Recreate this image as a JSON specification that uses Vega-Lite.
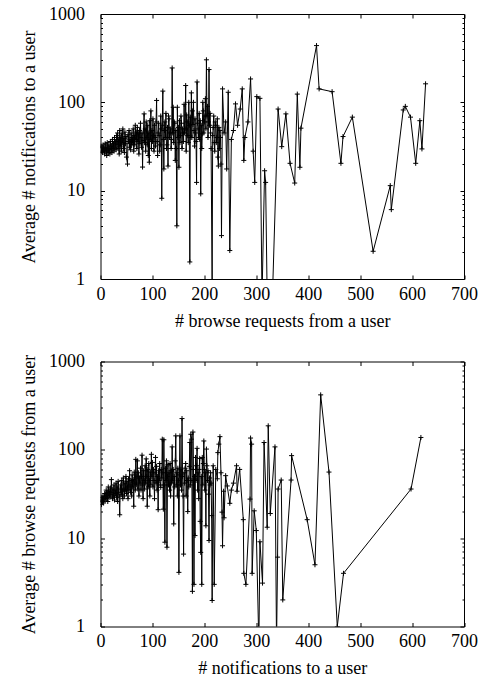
{
  "$schema": "https://vega.github.io/schema/vega-lite/v6.json",
  "padding": {"left": 19.5, "top": 4, "right": 5, "bottom": 5},
  "config": {
    "font": "Liberation Serif",
    "view": {"stroke": "black", "strokeWidth": 1},
    "axis": {"domain": false, "grid": false, "tickColor": "black", "tickWidth": 1, "labelColor": "black", "titleColor": "black", "labelFont": "Liberation Serif", "titleFont": "Liberation Serif", "labelFontSize": 18, "titleFontSize": 18, "titleFontWeight": "normal"}
  },
  "datasets": {
    "a": [
      {"x":1,"y":32},{"x":2,"y":28},{"x":3,"y":31},{"x":4,"y":27},{"x":5,"y":33},{"x":6,"y":29},{"x":7,"y":30},{"x":8,"y":26},{"x":9,"y":34},{"x":10,"y":28},
      {"x":11,"y":31},{"x":12,"y":25},{"x":13,"y":35},{"x":14,"y":29},{"x":15,"y":27},{"x":16,"y":33},{"x":17,"y":30},{"x":18,"y":26},{"x":19,"y":36},{"x":20,"y":29},
      {"x":21,"y":32},{"x":22,"y":27},{"x":23,"y":38},{"x":24,"y":30},{"x":25,"y":34},{"x":26,"y":28},{"x":27,"y":40},{"x":28,"y":31},{"x":29,"y":36},{"x":30,"y":29},
      {"x":31,"y":42},{"x":32,"y":33},{"x":33,"y":45},{"x":34,"y":30},{"x":35,"y":38},{"x":36,"y":26},{"x":37,"y":48},{"x":38,"y":32},{"x":39,"y":40},{"x":40,"y":28},
      {"x":41,"y":44},{"x":42,"y":35},{"x":43,"y":50},{"x":44,"y":30},{"x":45,"y":39},{"x":46,"y":27},{"x":47,"y":46},{"x":48,"y":34},{"x":49,"y":41},{"x":50,"y":24},
      {"x":52,"y":20},{"x":53,"y":43},{"x":54,"y":36},{"x":55,"y":48},{"x":56,"y":31},{"x":57,"y":38},{"x":58,"y":29},{"x":59,"y":45},{"x":60,"y":33},
      {"x":61,"y":40},{"x":62,"y":35},{"x":63,"y":50},{"x":64,"y":28},{"x":65,"y":42},{"x":66,"y":33},{"x":67,"y":55},{"x":68,"y":38},{"x":69,"y":46},{"x":70,"y":30},
      {"x":71,"y":52},{"x":72,"y":36},{"x":73,"y":44},{"x":74,"y":26},{"x":75,"y":48},{"x":76,"y":34},{"x":77,"y":58},{"x":78,"y":40},{"x":79,"y":31},{"x":80,"y":45},
      {"x":81,"y":18.5},{"x":82,"y":37},{"x":84,"y":74},{"x":85,"y":35},{"x":86,"y":50},{"x":87,"y":28},{"x":88,"y":60},{"x":89,"y":40},{"x":90,"y":33},
      {"x":91,"y":55},{"x":92,"y":25},{"x":93,"y":45},{"x":94,"y":21},{"x":95,"y":62},{"x":96,"y":38},{"x":97,"y":80},{"x":98,"y":30},{"x":99,"y":48},{"x":100,"y":36},
      {"x":101,"y":65},{"x":102,"y":42},{"x":103,"y":28},{"x":104,"y":55},{"x":105,"y":40},{"x":106,"y":32},{"x":107,"y":60},{"x":108,"y":105},{"x":109,"y":36},{"x":110,"y":25},
      {"x":111,"y":45},{"x":112,"y":58},{"x":113,"y":42},{"x":114,"y":28},{"x":115,"y":33},{"x":116,"y":70},{"x":117,"y":50},{"x":118,"y":8.2},{"x":119,"y":55},{"x":120,"y":134},{"x":121,"y":38},{"x":122,"y":17.6},
      {"x":123,"y":48},{"x":124,"y":60},{"x":125,"y":40},{"x":126,"y":75},{"x":127,"y":30},{"x":128,"y":33},{"x":129,"y":52},{"x":130,"y":19},{"x":131,"y":70},{"x":132,"y":65},{"x":133,"y":40},{"x":134,"y":45},{"x":135,"y":50},{"x":136,"y":30},
      {"x":137,"y":38},{"x":138,"y":245},{"x":139,"y":45},{"x":140,"y":88},{"x":141,"y":35},{"x":142,"y":60},{"x":143,"y":58},{"x":144,"y":22},{"x":145,"y":48},{"x":146,"y":30},{"x":147,"y":4.0},{"x":148,"y":88},{"x":149,"y":40},
      {"x":150,"y":52},{"x":151,"y":18.4},{"x":152,"y":62},{"x":153,"y":35},{"x":154,"y":42},{"x":155,"y":70},{"x":156,"y":58},{"x":157,"y":30},{"x":158,"y":50},{"x":159,"y":45},{"x":160,"y":36},{"x":161,"y":95},{"x":162,"y":45},
      {"x":163,"y":50},{"x":164,"y":155},{"x":165,"y":28},{"x":166,"y":72},{"x":167,"y":60},{"x":168,"y":42},{"x":169,"y":35},{"x":170,"y":100},{"x":171,"y":55},{"x":172,"y":1.56},{"x":173,"y":68},{"x":174,"y":40},{"x":175,"y":128},{"x":176,"y":40},
      {"x":177,"y":80},{"x":178,"y":56},{"x":179,"y":100},{"x":180,"y":48},{"x":181,"y":32},{"x":182,"y":65},{"x":183,"y":45},{"x":184,"y":36},{"x":185,"y":12.4},{"x":186,"y":170},{"x":187,"y":58},{"x":188,"y":50},{"x":189,"y":40},{"x":190,"y":75},
      {"x":191,"y":38},{"x":192,"y":62},{"x":193,"y":9.2},{"x":194,"y":55},{"x":195,"y":30},{"x":196,"y":44},{"x":197,"y":100},{"x":198,"y":80},{"x":199,"y":45},{"x":200,"y":60},{"x":201,"y":70},{"x":202,"y":110},{"x":203,"y":50},{"x":204,"y":303},{"x":205,"y":70},
      {"x":206,"y":90},{"x":207,"y":40},{"x":208,"y":60},{"x":209,"y":235},{"x":210,"y":55},{"x":211,"y":75},{"x":212,"y":45},{"x":213,"y":30},{"x":215,"y":0.85},{"x":216,"y":42},{"x":217,"y":52},{"x":218,"y":70},{"x":219,"y":35},{"x":220,"y":28},{"x":221,"y":60},
      {"x":222,"y":55},{"x":223,"y":35},{"x":224,"y":40},{"x":225,"y":65},{"x":226,"y":24},{"x":227,"y":19},{"x":228,"y":52},{"x":229,"y":30},{"x":230,"y":48},{"x":231,"y":40},{"x":232,"y":20},{"x":233,"y":3.1},{"x":235,"y":142},{"x":238,"y":45},{"x":241,"y":60},{"x":243,"y":17.6},{"x":246,"y":130},{"x":249,"y":2.1},
      {"x":252,"y":38},{"x":256,"y":48},{"x":260,"y":96},{"x":264,"y":55},{"x":269,"y":84},{"x":273,"y":142},{"x":276,"y":22},{"x":278,"y":40},{"x":284,"y":60},
      {"x":289,"y":184},{"x":294,"y":28},{"x":297,"y":12.4},{"x":301,"y":116},{"x":307,"y":111},{"x":311,"y":0.6},{"x":316,"y":16.8},{"x":318,"y":12.4},{"x":321,"y":0.6},
      {"x":331,"y":0.6},{"x":342,"y":84},{"x":349,"y":31.5},{"x":357,"y":74},{"x":365,"y":20.4},{"x":374,"y":12.2},{"x":379,"y":124},{"x":384,"y":18.4},{"x":386,"y":51},
      {"x":416,"y":439},{"x":421,"y":142},{"x":446,"y":132},{"x":463,"y":20.4},{"x":467,"y":41},{"x":485,"y":68},{"x":525,"y":2.06},{"x":558,"y":11.4},{"x":560,"y":6.1},
      {"x":583,"y":82},{"x":587,"y":90},{"x":597,"y":68},{"x":607,"y":20.4},{"x":615,"y":62},{"x":619,"y":29.7},{"x":626,"y":162}
    ],
    "b": [
      {"x":1,"y":27},{"x":2,"y":24},{"x":3,"y":29},{"x":4,"y":26},{"x":5,"y":30},{"x":6,"y":25},{"x":7,"y":28},{"x":8,"y":32},{"x":9,"y":27},{"x":10,"y":30},
      {"x":11,"y":35},{"x":12,"y":28},{"x":13,"y":33},{"x":14,"y":26},{"x":15,"y":38},{"x":16,"y":30},{"x":17,"y":34},{"x":18,"y":29},{"x":19,"y":37},{"x":20,"y":31},
      {"x":21,"y":46},{"x":22,"y":33},{"x":23,"y":28},{"x":24,"y":36},{"x":25,"y":30},{"x":26,"y":40},{"x":27,"y":27},{"x":28,"y":35},{"x":29,"y":32},{"x":30,"y":42},
      {"x":31,"y":29},{"x":32,"y":38},{"x":33,"y":26},{"x":34,"y":44},{"x":35,"y":33},{"x":36,"y":30},{"x":37,"y":18.4},{"x":38,"y":36},{"x":39,"y":40},{"x":40,"y":31},
      {"x":41,"y":45},{"x":42,"y":34},{"x":43,"y":28},{"x":44,"y":48},{"x":45,"y":36},{"x":46,"y":30},{"x":47,"y":42},{"x":48,"y":35},{"x":49,"y":50},{"x":50,"y":32},
      {"x":51,"y":44},{"x":52,"y":38},{"x":53,"y":28},{"x":54,"y":47},{"x":55,"y":35},{"x":56,"y":58},{"x":57,"y":40},{"x":58,"y":33},{"x":59,"y":45},{"x":60,"y":30},
      {"x":61,"y":52},{"x":62,"y":38},{"x":63,"y":46},{"x":64,"y":23},{"x":65,"y":56},{"x":66,"y":42},{"x":67,"y":35},{"x":68,"y":78},{"x":69,"y":40},{"x":70,"y":50},
      {"x":71,"y":75},{"x":72,"y":36},{"x":73,"y":55},{"x":74,"y":30},{"x":75,"y":48},{"x":76,"y":42},{"x":77,"y":62},{"x":78,"y":35},{"x":79,"y":50},{"x":80,"y":87},
      {"x":81,"y":40},{"x":82,"y":28},{"x":83,"y":58},{"x":84,"y":45},{"x":85,"y":36},{"x":86,"y":66},{"x":87,"y":42},{"x":88,"y":79},{"x":89,"y":50},{"x":90,"y":23},
      {"x":91,"y":60},{"x":92,"y":38},{"x":93,"y":70},{"x":94,"y":45},{"x":95,"y":30},{"x":96,"y":56},{"x":97,"y":40},{"x":98,"y":89},{"x":99,"y":50},{"x":100,"y":72},
      {"x":101,"y":38},{"x":102,"y":60},{"x":103,"y":45},{"x":104,"y":28},{"x":105,"y":55},{"x":106,"y":82},{"x":107,"y":42},{"x":108,"y":65},{"x":109,"y":35},{"x":110,"y":50},
      {"x":111,"y":21},{"x":112,"y":58},{"x":113,"y":45},{"x":114,"y":70},{"x":115,"y":40},{"x":116,"y":37.6},{"x":117,"y":60},{"x":118,"y":48},{"x":119,"y":132},{"x":120,"y":55},
      {"x":121,"y":21.3},{"x":122,"y":130},{"x":123,"y":40},{"x":124,"y":9},{"x":125,"y":62},{"x":126,"y":45},{"x":127,"y":75},{"x":128,"y":7.9},{"x":129,"y":50},{"x":130,"y":68},
      {"x":131,"y":40},{"x":132,"y":55},{"x":133,"y":35},{"x":134,"y":70},{"x":135,"y":30},{"x":136,"y":58},{"x":137,"y":42},{"x":138,"y":108},{"x":139,"y":45},{"x":140,"y":60},
      {"x":141,"y":14.5},{"x":142,"y":50},{"x":143,"y":38},{"x":144,"y":75},{"x":145,"y":144},{"x":146,"y":40},{"x":147,"y":55},{"x":148,"y":30},{"x":149,"y":62},{"x":150,"y":45},
      {"x":151,"y":4.1},{"x":152,"y":52},{"x":153,"y":144},{"x":154,"y":40},{"x":155,"y":60},{"x":156,"y":35},{"x":157,"y":226},{"x":158,"y":50},{"x":159,"y":30},{"x":160,"y":6.6},
      {"x":161,"y":55},{"x":162,"y":42},{"x":163,"y":62},{"x":164,"y":70},{"x":165,"y":30},{"x":166,"y":58},{"x":167,"y":45},{"x":168,"y":20},{"x":169,"y":48},{"x":170,"y":38},
      {"x":171,"y":65},{"x":172,"y":121},{"x":173,"y":40},{"x":174,"y":150},{"x":175,"y":132},{"x":176,"y":45},{"x":177,"y":2.5},{"x":178,"y":159},{"x":179,"y":60},{"x":180,"y":3.0},
      {"x":181,"y":50},{"x":182,"y":10.7},{"x":183,"y":82},{"x":184,"y":45},{"x":185,"y":66},{"x":186,"y":104},{"x":187,"y":35},{"x":188,"y":55},{"x":189,"y":28},{"x":190,"y":60},
      {"x":191,"y":80},{"x":192,"y":15.5},{"x":193,"y":6.9},{"x":194,"y":50},{"x":195,"y":3.0},{"x":196,"y":82},{"x":197,"y":40},{"x":198,"y":70},{"x":199,"y":126},{"x":200,"y":60},
      {"x":201,"y":35},{"x":202,"y":55},{"x":203,"y":13.8},{"x":204,"y":102},{"x":205,"y":66},{"x":206,"y":45},{"x":207,"y":58},{"x":208,"y":31.5},{"x":209,"y":9.4},{"x":210,"y":48},
      {"x":211,"y":40},{"x":212,"y":55},{"x":213,"y":42},{"x":214,"y":18},{"x":215,"y":1.97},{"x":217,"y":66},{"x":219,"y":3.0},
      {"x":222,"y":60},{"x":225,"y":47},{"x":226,"y":93},{"x":228,"y":116},{"x":230,"y":141},{"x":232,"y":55},{"x":234,"y":19.7},{"x":235,"y":8.2},{"x":237,"y":34},{"x":238,"y":17},
      {"x":241,"y":51},{"x":244,"y":39},{"x":249,"y":24.8},{"x":252,"y":35},{"x":256,"y":42},{"x":262,"y":66},{"x":263,"y":34},{"x":268,"y":60},{"x":275,"y":16.2},{"x":276,"y":4.0},
      {"x":280,"y":3.0},{"x":288,"y":27.7},{"x":289,"y":136},{"x":291,"y":116},{"x":292,"y":4.0},{"x":296,"y":20.4},{"x":300,"y":12.2},{"x":305,"y":0.6},{"x":307,"y":9.1},
      {"x":312,"y":3.1},{"x":315,"y":121},{"x":321,"y":13.3},{"x":323,"y":187},{"x":327,"y":19},{"x":336,"y":108},{"x":339,"y":0.6},{"x":341,"y":6.1},{"x":342,"y":36},
      {"x":348,"y":45.5},{"x":351,"y":2.0},{"x":367,"y":45.5},{"x":368,"y":86},{"x":398,"y":16.2},{"x":413,"y":5.0},{"x":424,"y":419},{"x":440,"y":56},{"x":456,"y":1},
      {"x":468,"y":4.0},{"x":598,"y":36},{"x":617,"y":138}
    ]
  },
  "spacing": 82.5,
  "bounds": "flush",
  "vconcat": [
    {
      "width": 363.5, "height": 265,
      "data": {"name": "a"},
      "layer": [
        {"mark": {"type": "line", "clip": true, "color": "black", "strokeWidth": 1},
         "encoding": {
           "x": {"field": "x", "type": "quantitative", "scale": {"domain": [0, 700], "nice": false, "zero": false},
                 "axis": {"orient": "bottom", "values": [0,100,200,300,400,500,600,700], "title": "# browse requests from a user", "tickSize": -4, "labelPadding": 10, "labelFlush": false, "titlePadding": 9}},
           "y": {"field": "y", "type": "quantitative", "scale": {"type": "log", "domain": [1, 1000], "nice": false},
                 "axis": {"orient": "left", "values": [1,10,100,1000], "format": "d", "title": "Average # notifications to a user", "tickSize": -4, "labelPadding": 20, "titlePadding": 10}}
         }},
        {"mark": {"type": "point", "clip": true, "shape": "M-1,0L1,0M0,-1L0,1", "filled": false, "size": 25, "strokeWidth": 1, "color": "black", "opacity": 1},
         "encoding": {
           "x": {"field": "x", "type": "quantitative", "axis": {"orient": "top", "values": [0,100,200,300,400,500,600,700], "labels": false, "title": null, "tickSize": -4}},
           "y": {"field": "y", "type": "quantitative", "axis": {"orient": "right", "values": [1,10,100,1000], "labels": false, "title": null, "tickSize": -4}}
         }},
        {"mark": {"type": "point", "clip": true, "opacity": 0},
         "encoding": {
           "x": {"field": "x", "type": "quantitative", "axis": null},
           "y": {"field": "y", "type": "quantitative", "axis": {"orient": "left", "values": [2,3,4,5,6,7,8,9,20,30,40,50,60,70,80,90,200,300,400,500,600,700,800,900], "labels": false, "title": null, "tickSize": -2}}
         }},
        {"mark": {"type": "point", "clip": true, "opacity": 0},
         "encoding": {
           "x": {"field": "x", "type": "quantitative", "axis": null},
           "y": {"field": "y", "type": "quantitative", "axis": {"orient": "right", "values": [2,3,4,5,6,7,8,9,20,30,40,50,60,70,80,90,200,300,400,500,600,700,800,900], "labels": false, "title": null, "tickSize": -2}}
         }}
      ],
      "resolve": {"axis": {"x": "independent", "y": "independent"}}
    },
    {
      "width": 363.5, "height": 265,
      "data": {"name": "b"},
      "layer": [
        {"mark": {"type": "line", "clip": true, "color": "black", "strokeWidth": 1},
         "encoding": {
           "x": {"field": "x", "type": "quantitative", "scale": {"domain": [0, 700], "nice": false, "zero": false},
                 "axis": {"orient": "bottom", "values": [0,100,200,300,400,500,600,700], "title": "# notifications to a user", "tickSize": -4, "labelPadding": 10, "labelFlush": false, "titlePadding": 9}},
           "y": {"field": "y", "type": "quantitative", "scale": {"type": "log", "domain": [1, 1000], "nice": false},
                 "axis": {"orient": "left", "values": [1,10,100,1000], "format": "d", "title": "Average # browse requests from a user", "tickSize": -4, "labelPadding": 20, "titlePadding": 10}}
         }},
        {"mark": {"type": "point", "clip": true, "shape": "M-1,0L1,0M0,-1L0,1", "filled": false, "size": 25, "strokeWidth": 1, "color": "black", "opacity": 1},
         "encoding": {
           "x": {"field": "x", "type": "quantitative", "axis": {"orient": "top", "values": [0,100,200,300,400,500,600,700], "labels": false, "title": null, "tickSize": -4}},
           "y": {"field": "y", "type": "quantitative", "axis": {"orient": "right", "values": [1,10,100,1000], "labels": false, "title": null, "tickSize": -4}}
         }},
        {"mark": {"type": "point", "clip": true, "opacity": 0},
         "encoding": {
           "x": {"field": "x", "type": "quantitative", "axis": null},
           "y": {"field": "y", "type": "quantitative", "axis": {"orient": "left", "values": [2,3,4,5,6,7,8,9,20,30,40,50,60,70,80,90,200,300,400,500,600,700,800,900], "labels": false, "title": null, "tickSize": -2}}
         }},
        {"mark": {"type": "point", "clip": true, "opacity": 0},
         "encoding": {
           "x": {"field": "x", "type": "quantitative", "axis": null},
           "y": {"field": "y", "type": "quantitative", "axis": {"orient": "right", "values": [2,3,4,5,6,7,8,9,20,30,40,50,60,70,80,90,200,300,400,500,600,700,800,900], "labels": false, "title": null, "tickSize": -2}}
         }}
      ],
      "resolve": {"axis": {"x": "independent", "y": "independent"}}
    }
  ]
}
